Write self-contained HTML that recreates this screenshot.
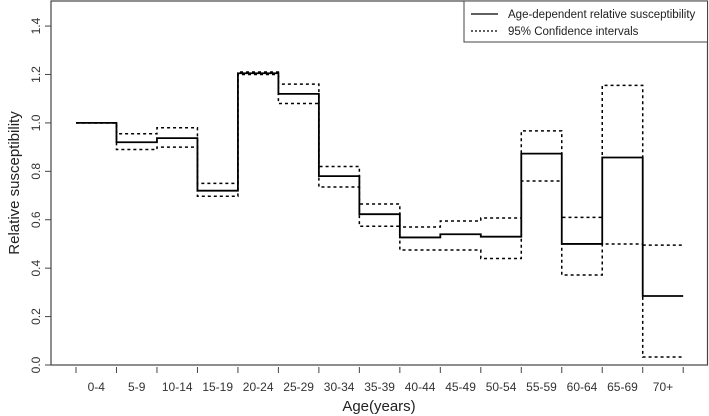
<!DOCTYPE html>
<html><head><meta charset="utf-8"><style>
html,body{margin:0;padding:0;background:#fff;}
svg{display:block;font-family:"Liberation Sans",Arial,sans-serif;}
</style></head><body>
<svg id="chart" width="709" height="416" viewBox="0 0 709 416">
<rect x="51" y="1" width="656.5" height="364" fill="none" stroke="#444" stroke-width="1.2"/>
<g id="yaxis"></g>
<g id="xaxis"></g>
<g id="series"></g>
<text x="19" y="183" transform="rotate(-90 19 183)" text-anchor="middle" font-size="15" fill="#222">Relative susceptibility</text>
<text x="379" y="411" text-anchor="middle" font-size="15" fill="#222">Age(years)</text>
<g>
<rect x="464" y="1" width="243.5" height="41" fill="#fff" stroke="#444" stroke-width="1"/>
<line x1="471" y1="14" x2="498" y2="14" stroke="#000" stroke-width="1.3"/>
<text x="508" y="18" font-size="11.5" fill="#222">Age-dependent relative susceptibility</text>
<line x1="471" y1="31" x2="498" y2="31" stroke="#000" stroke-width="1.3" stroke-dasharray="2,2"/>
<text x="508" y="35" font-size="11.5" fill="#222">95% Confidence intervals</text>
</g>
</svg>
<script>
const categories = ["0-4","5-9","10-14","15-19","20-24","25-29","30-34","35-39","40-44","45-49","50-54","55-59","60-64","65-69","70+"];
const estimate = [1.0,0.92,0.937,0.72,1.205,1.12,0.78,0.623,0.527,0.54,0.53,0.873,0.50,0.857,0.285];
const upperCI = [1.0,0.955,0.98,0.75,1.21,1.16,0.82,0.665,0.57,0.595,0.607,0.967,0.61,1.155,0.495];
const lowerCI = [1.0,0.89,0.90,0.697,1.2,1.08,0.735,0.573,0.475,0.475,0.44,0.76,0.372,0.50,0.033];
const yTicks = [0.0,0.2,0.4,0.6,0.8,1.0,1.2,1.4];
const yTickLabels = ["0.0","0.2","0.4","0.6","0.8","1.0","1.2","1.4"];

const NS = "http://www.w3.org/2000/svg";
const y = v => 365 - v * 242.1;
const x = i => 76 + i * 40.48;
function mk(tag, attrs, parent){ const e=document.createElementNS(NS,tag); for(const k in attrs) e.setAttribute(k,attrs[k]); parent.appendChild(e); return e; }

const ya = document.getElementById('yaxis');
yTicks.forEach((t,i)=>{
  const l = mk('line',{x1:45,x2:51,y1:y(t),y2:y(t),stroke:'#444','stroke-width':1},ya);
  
  
  const tx = mk('text',{x:40,y:y(t),'font-size':12,fill:'#333','text-anchor':'middle',transform:`rotate(-90 40 ${y(t)})`},ya);
  tx.textContent = yTickLabels[i];
  
  
});
const xa = document.getElementById('xaxis');
for(let i=0;i<=categories.length;i++){
  const l = mk('line',{x1:x(i),x2:x(i),y1:367,y2:373,stroke:'#444','stroke-width':1},xa);
  
  
}
categories.forEach((c,i)=>{
  const tx = mk('text',{x:x(i+0.5),y:391,'font-size':12,fill:'#333','text-anchor':'middle'},xa);
  tx.textContent = c;
  
  
});
function stepPath(vals){
  let d = `M${x(0)},${y(vals[0])} H${x(1)}`;
  for(let i=1;i<vals.length;i++){ d += ` V${y(vals[i])} H${x(i+1)}`; }
  return d;
}
const s = document.getElementById('series');
const up = mk('path',{d:stepPath(upperCI),fill:'none',stroke:'#000','stroke-width':1.5,'stroke-dasharray':'3,3'},s);


const lo = mk('path',{d:stepPath(lowerCI),fill:'none',stroke:'#000','stroke-width':1.5,'stroke-dasharray':'3,3'},s);


const est = mk('path',{d:stepPath(estimate),fill:'none',stroke:'#000','stroke-width':1.8},s);


</script>
</body></html>
